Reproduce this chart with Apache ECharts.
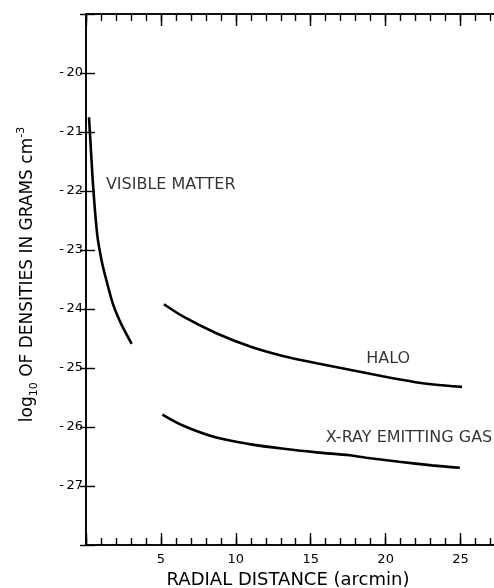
<!DOCTYPE html>
<html>
<head>
<meta charset="utf-8">
<script src="https://cdn.jsdelivr.net/npm/echarts@6/dist/echarts.min.js"></script>
<style>
html,body{margin:0;padding:0;background:#fff;}
#chart{width:494px;height:588px;}
</style>
</head>
<body>
<div id="chart"></div>
<script>
// Data (radial distance in arcmin, log10 density)
const visibleMatter = [[0.2,-20.75],[0.33,-21.31],[0.49,-21.97],[0.75,-22.74],[1.05,-23.19],[1.38,-23.53],[1.82,-23.93],[2.38,-24.27],[3.05,-24.59]];
const halo = [[5.2,-23.92],[6.5,-24.13],[8.7,-24.41],[11.0,-24.64],[13.2,-24.80],[15.4,-24.92],[17.6,-25.03],[19.8,-25.14],[22.0,-25.24],[23.2,-25.28],[25.1,-25.32]];
const xrayGas = [[5.1,-25.79],[6.5,-25.98],[8.7,-26.18],[10.9,-26.29],[13.2,-26.37],[15.4,-26.43],[17.6,-26.48],[18.7,-26.52],[20.9,-26.59],[23.1,-26.65],[24.95,-26.69]];
const curveLabels = ['VISIBLE MATTER','HALO','X-RAY EMITTING GAS'];
const curveLabelPos = [[1.33,-21.90],[18.7,-24.85],[16.0,-26.19]];
const xTickLabels = [5,10,15,20,25];
const yTickLabels = [-20,-21,-22,-23,-24,-25,-26,-27];

const FONT = 'DejaVu Sans';
const INK = '#000';
const xMin = 0, xMax = 27.5, yMin = -28, yMax = -19;

const chart = echarts.init(document.getElementById('chart'));
const lineAx = {show:true, lineStyle:{color:INK, width:1.6}};
function xAx(pos, interval, len, labels){
  return {
    type:'value', position:pos, min:xMin, max:xMax, interval:interval,
    axisLine: lineAx,
    axisTick:{show:true, inside:true, length:len, lineStyle:{color:INK, width:1.4}},
    axisLabel:{show:labels, margin:8, color:INK, fontFamily:FONT, fontSize:13,
      formatter: v => xTickLabels.indexOf(v) >= 0 ? String(v) : ''},
    splitLine:{show:false}
  };
}
const xAxes = [xAx('bottom',5,12,true), xAx('bottom',1,7,false), xAx('top',5,12,false), xAx('top',1,7,false)];
xAxes[0].name = 'RADIAL DISTANCE (arcmin)';
xAxes[0].nameLocation = 'middle';
xAxes[0].nameGap = 26;
xAxes[0].nameTextStyle = {color:INK, fontFamily:FONT, fontSize:18, padding:[0,8,0,0]};

const option = {
  backgroundColor:'#fff',
  animation:false,
  grid:{left:86, top:14, width:412, height:531, containLabel:false, outerBoundsMode:'none'},
  xAxis: xAxes,
  yAxis:[{
    type:'value', position:'left', min:yMin, max:yMax, interval:1,
    axisLine: lineAx,
    axisTick:{show:true, inside:true, length:9, lineStyle:{color:INK, width:1.4}},
    axisLabel:{margin:3, color:INK, fontFamily:FONT, fontSize:13,
      formatter: v => yTickLabels.indexOf(v) >= 0 ? '-\u2009' + Math.abs(v) : ''},
    splitLine:{show:false},
    name:'{a|log}{sub|10}{a| OF DENSITIES IN GRAMS cm}{sup|-3}',
    nameLocation:'middle', nameRotate:90, nameGap:46,
    nameTextStyle:{color:INK, fontFamily:FONT, fontSize:17, padding:[0,0,0,10],
      rich:{
        a:{fontFamily:FONT, fontSize:17, color:INK, lineHeight:24, verticalAlign:'middle'},
        sub:{fontFamily:FONT, fontSize:11, color:INK, lineHeight:11, verticalAlign:'bottom'},
        sup:{fontFamily:FONT, fontSize:11, color:INK, lineHeight:11, verticalAlign:'top'}
      }}
  },{
    type:'value', position:'right', min:yMin, max:yMax, interval:1,
    axisLine: lineAx,
    axisTick:{show:true, inside:true, length:6, lineStyle:{color:INK, width:1.4}},
    axisLabel:{show:false}, splitLine:{show:false}
  }],
  series:[
    {type:'line', name:'Visible matter', data:visibleMatter, smooth:0.3, showSymbol:false,
     lineStyle:{color:INK, width:2.6}},
    {type:'line', name:'Halo', data:halo, smooth:0.3, showSymbol:false,
     lineStyle:{color:INK, width:2.6}},
    {type:'line', name:'X-ray emitting gas', data:xrayGas, smooth:0.3, showSymbol:false,
     lineStyle:{color:INK, width:2.6}},
    {type:'scatter', symbolSize:0, silent:true,
     data: curveLabelPos.map((p,i) => ({value:p, name:curveLabels[i]})),
     label:{show:true, position:'right', distance:0, color:INK, fontFamily:FONT, fontSize:16,
       formatter: p => p.name}}
  ]
};
chart.setOption(option);
</script>
</body>
</html>
